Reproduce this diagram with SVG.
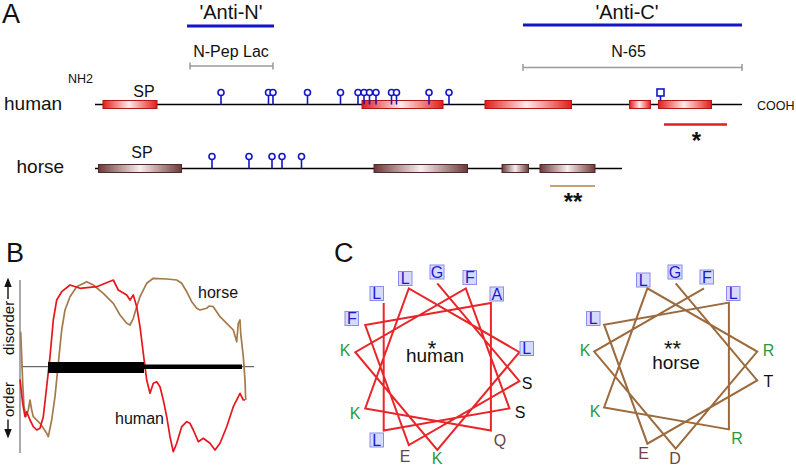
<svg xmlns="http://www.w3.org/2000/svg" xmlns:xlink="http://www.w3.org/1999/xlink" width="796" height="467" viewBox="0 0 796 467">
<style>
text{font-family:"Liberation Sans",Arial,sans-serif;fill:#111}
.panel{font-size:27px}
.rng{stroke:#9a9a9a;stroke-width:1.5;fill:none}
.ab{stroke:#1414c8;stroke-width:3.2;fill:none}
.bb{stroke:#000;stroke-width:1.6;fill:none}
.hbox{fill:url(#gRed);stroke:#b01818;stroke-width:1}
.qbox{fill:url(#gBrown);stroke:#4e2a2a;stroke-width:1}
.lol{stroke:#1414c8;stroke-width:1.6;fill:#fff}
.wl{font-size:16px;text-anchor:middle}
.bl{fill:#1a1ac8}
.gr{fill:#2a9a3a}
.br{fill:#6e4444}
.bk{fill:#111}
.lb{fill:#d6daff;stroke:#8a8cf0;stroke-width:1}
.hw{fill:none;stroke:#e8262a;stroke-width:2}
.qw{fill:none;stroke:#9c6a3c;stroke-width:2}
</style>
<defs>
<linearGradient id="gRed" x1="0" y1="0" x2="1" y2="0">
<stop offset="0" stop-color="#e31b1b"/><stop offset="0.48" stop-color="#fdecec"/><stop offset="1" stop-color="#e31b1b"/>
</linearGradient>
<linearGradient id="gBrown" x1="0" y1="0" x2="1" y2="0">
<stop offset="0" stop-color="#6c3838"/><stop offset="0.5" stop-color="#f6efef"/><stop offset="1" stop-color="#6c3838"/>
</linearGradient>
<g id="lol"><line x1="0" y1="-9" x2="0" y2="0" stroke="#1414c8" stroke-width="1.6"/><circle cx="0" cy="-12" r="3" class="lol"/></g>
</defs>

<!-- Panel A -->
<g id="panelA">
<text class="panel" x="2" y="23">A</text>
<g id="anti-n"><text x="231" y="19" font-size="20" text-anchor="middle">'Anti-N'</text><line class="ab" x1="187" y1="26" x2="274" y2="26"/></g>
<g id="anti-c"><text x="627" y="19" font-size="20" text-anchor="middle">'Anti-C'</text><line class="ab" x1="523" y1="25" x2="742" y2="25"/></g>
<g id="npep-lac"><text x="231" y="57" font-size="16" text-anchor="middle">N-Pep Lac</text><path class="rng" d="M190,66 H273 M190,62.5 V69.5 M273,62.5 V69.5"/></g>
<g id="n65"><text x="628.5" y="57" font-size="16" text-anchor="middle">N-65</text><path class="rng" d="M523,67.5 H742 M523,64 V71 M742,64 V71"/></g>

<g id="human-protein">
<text x="4" y="109.5" font-size="19">human</text>
<text x="68" y="82.5" font-size="12.5">NH2</text>
<text x="757" y="110" font-size="12.5">COOH</text>
<line class="bb" x1="95" y1="104.5" x2="742" y2="104.5"/>
<text x="144" y="96.5" font-size="16" text-anchor="middle">SP</text>
<rect class="hbox" x="103" y="100.5" width="54" height="8"/>
<rect class="hbox" x="362" y="100.5" width="81" height="8"/>
<rect class="hbox" x="485" y="100.5" width="86.5" height="8"/>
<rect class="hbox" x="629.5" y="100.5" width="21" height="8"/>
<rect class="hbox" x="658.5" y="100.5" width="53" height="8"/>
<g id="human-sites">
<use xlink:href="#lol" x="221" y="104.5"/><use xlink:href="#lol" x="268.5" y="104.5"/><use xlink:href="#lol" x="273" y="104.5"/>
<use xlink:href="#lol" x="307.5" y="104.5"/><use xlink:href="#lol" x="340.5" y="104.5"/><use xlink:href="#lol" x="358" y="104.5"/>
<use xlink:href="#lol" x="364" y="104.5"/><use xlink:href="#lol" x="369.5" y="104.5"/><use xlink:href="#lol" x="376" y="104.5"/>
<use xlink:href="#lol" x="391.5" y="104.5"/><use xlink:href="#lol" x="396.5" y="104.5"/><use xlink:href="#lol" x="429" y="104.5"/>
<use xlink:href="#lol" x="449" y="104.5"/>
<line x1="660.5" y1="96" x2="660.5" y2="100.5" stroke="#1414c8" stroke-width="1.6"/>
<rect x="657" y="89" width="7" height="7" fill="#fff" stroke="#1414c8" stroke-width="1.6"/>
</g>
<line x1="664" y1="124.5" x2="727" y2="124.5" stroke="#e41c1c" stroke-width="2.6"/>
<text x="696.5" y="149" font-size="24" font-weight="bold" text-anchor="middle">*</text>
</g>

<g id="horse-protein">
<text x="16.5" y="173" font-size="19">horse</text>
<line class="bb" x1="95" y1="168.5" x2="622" y2="168.5"/>
<text x="142" y="157.5" font-size="16" text-anchor="middle">SP</text>
<rect class="qbox" x="98.5" y="164.5" width="83" height="8"/>
<rect class="qbox" x="374" y="164.5" width="93.5" height="8"/>
<rect class="qbox" x="502" y="164.5" width="26.5" height="8"/>
<rect class="qbox" x="540" y="164.5" width="55" height="8"/>
<g id="horse-sites">
<use xlink:href="#lol" x="212" y="168.5"/><use xlink:href="#lol" x="249" y="168.5"/><use xlink:href="#lol" x="272" y="168.5"/>
<use xlink:href="#lol" x="282" y="168.5"/><use xlink:href="#lol" x="301.5" y="168.5"/>
</g>
<line x1="550" y1="186" x2="595" y2="186" stroke="#c9a272" stroke-width="2.2"/>
<text x="573" y="210" font-size="24" font-weight="bold" text-anchor="middle">**</text>
</g>
</g>

<!-- Panel B -->
<g id="panelB">
<text class="panel" x="6" y="262">B</text>
<line x1="20" y1="280" x2="20" y2="453" stroke="#555" stroke-width="1"/>
<g id="axis-labels">
<text x="13.5" y="355" font-size="15" transform="rotate(-90 13.5 355)">disorder</text>
<text x="13.5" y="417" font-size="15" transform="rotate(-90 13.5 417)">order</text>
<path d="M8,299 V286" stroke="#111" stroke-width="1.4"/>
<polygon points="8,277.5 4.3,287 11.7,287" fill="#111"/>
<path d="M8,419.5 V429" stroke="#111" stroke-width="1.4"/>
<polygon points="8,438.5 4.3,429 11.7,429" fill="#111"/>
</g>
<line x1="21" y1="366.7" x2="254" y2="366.7" stroke="#444" stroke-width="1"/>
<g id="curves">
<path fill="none" stroke="#a5794a" stroke-width="1.7" stroke-linejoin="round" d="M20.7,331.7 L21.7,356.7 22.7,383.3 24,406.7 26,416.7 28.3,410 30,400 31.7,410 33.3,416.7 40,423.3 46.7,433.3 48.3,436.7 51.7,420 55,396.7 58.3,363.3 61.7,330 65,310 70,296.7 76.7,286.7 86.7,281.7 93.3,285 103.3,293.3 113.3,303.3 120,315 126.7,323.3 130,325 133.3,318.3 136.7,306.7 140,296.7 146.7,283.3 153.3,278.3 166.7,279 176.7,280 181.7,283.3 186.7,291.7 191.7,301.7 196.7,308.3 200,310 206.7,308.3 209,306 213.3,306.7 220,316.7 226.7,323.3 233.3,330 236.7,341.7 238.3,323.3 240,320 240.7,333.3 243.3,356.7 245,380 245.7,400"/>
<path fill="none" stroke="#e8161c" stroke-width="1.7" stroke-linejoin="round" d="M20,379.3 L22.7,403.3 25,416.7 26.7,411.7 28,415 30,420 33.3,426.7 36.7,430 40,428.3 43.3,416.7 46.7,386.7 50,356.7 53.3,320 56.7,300 61.7,291.7 70,285 80,288.3 96.7,286.7 113.3,280 118.3,290 126.7,295 130,300 133.3,295 136.7,306.7 140,326.7 143.3,353.3 146.7,380 150,393.3 153.3,383.3 156.7,381.7 160,386.7 163.3,400 166.7,416.7 170,436.7 173.3,451.7 176.7,443.3 181.7,426.7 186.7,421.7 190,423.3 193.3,430 198.3,441.7 203.3,438.3 210,443.3 215,450 220,443.3 226.7,426.7 233.3,406.7 240,393.3 243.3,400 245,400"/>
</g>
<rect x="48" y="362" width="96" height="11" fill="#000"/>
<rect x="144" y="364.5" width="98" height="4.5" fill="#000"/>
<text x="198" y="298" font-size="16">horse</text>
<text x="115" y="424" font-size="16">human</text>
</g>

<!-- Panel C -->
<g id="panelC">
<text class="panel" x="334" y="262">C</text>
<g id="wheel-human">
<polyline class="hw" points="437.3,283.4 519.4,381.2 408.8,445 365.2,325 490.9,302.9 490.9,430.5 365.2,408.4 408.8,288.4 519.4,352.2 437.3,450 355.3,352.2 465.8,288.4 509.4,408.4 383.7,430.5 383.7,302.9"/>
<rect class="lb" x="370" y="286.5" width="13.5" height="14"/><text class="wl bl" x="376.7" y="299.3">L</text>
<rect class="lb" x="398.5" y="271.5" width="13.5" height="14"/><text class="wl bl" x="405.2" y="284.3">L</text>
<rect class="lb" x="430" y="265" width="14" height="14"/><text class="wl bl" x="437" y="277.8">G</text>
<rect class="lb" x="463" y="270.5" width="13.5" height="14"/><text class="wl bl" x="469.8" y="283.3">F</text>
<rect class="lb" x="490" y="287" width="13.5" height="14"/><text class="wl bl" x="496.8" y="299.8">A</text>
<rect class="lb" x="520" y="341.5" width="13.5" height="14"/><text class="wl bl" x="526.8" y="354.3">L</text>
<text class="wl bk" x="527" y="389.3">S</text>
<text class="wl bk" x="520" y="417.8">S</text>
<text class="wl br" x="500" y="445.8">Q</text>
<text class="wl gr" x="437" y="463.5">K</text>
<text class="wl br" x="405" y="462">E</text>
<rect class="lb" x="370" y="433" width="13.5" height="14"/><text class="wl bl" x="376.7" y="445.8">L</text>
<text class="wl gr" x="355" y="419.3">K</text>
<text class="wl gr" x="345" y="355.8">K</text>
<rect class="lb" x="345" y="311.5" width="13.5" height="14"/><text class="wl bl" x="351.8" y="324.3">F</text>
<text x="432" y="355.5" font-size="22" text-anchor="middle">*</text>
<text x="435" y="362" font-size="19" text-anchor="middle">human</text>
</g>
<g id="wheel-horse">
<polyline class="qw" points="675.7,283.3 757.2,380.4 647.4,443.7 604.1,324.7 728.9,302.6 728.9,429.4 604.1,407.4 647.4,288.3 757.2,351.6 675.7,448.7 594.2,351.6 704,288.3"/>
<rect class="lb" x="636.5" y="273" width="13.5" height="14"/><text class="wl bl" x="643.3" y="285.8">L</text>
<rect class="lb" x="668" y="265" width="14" height="14"/><text class="wl bl" x="675" y="277.8">G</text>
<rect class="lb" x="700" y="270" width="13.5" height="14"/><text class="wl bl" x="706.8" y="282.8">F</text>
<rect class="lb" x="726.5" y="286.5" width="13.5" height="14"/><text class="wl bl" x="733.3" y="299.3">L</text>
<text class="wl gr" x="768.5" y="355.8">R</text>
<text class="wl bk" x="768.5" y="387.3">T</text>
<text class="wl gr" x="737" y="444.3">R</text>
<text class="wl br" x="675" y="463.5">D</text>
<text class="wl br" x="643.5" y="459.3">E</text>
<text class="wl gr" x="595" y="417.3">K</text>
<text class="wl gr" x="585" y="355.8">K</text>
<rect class="lb" x="586.5" y="311.5" width="13.5" height="14"/><text class="wl bl" x="593.3" y="324.3">L</text>
<text x="672.5" y="355.5" font-size="22" text-anchor="middle">**</text>
<text x="676" y="368.5" font-size="19" text-anchor="middle">horse</text>
</g>
</g>
</svg>
